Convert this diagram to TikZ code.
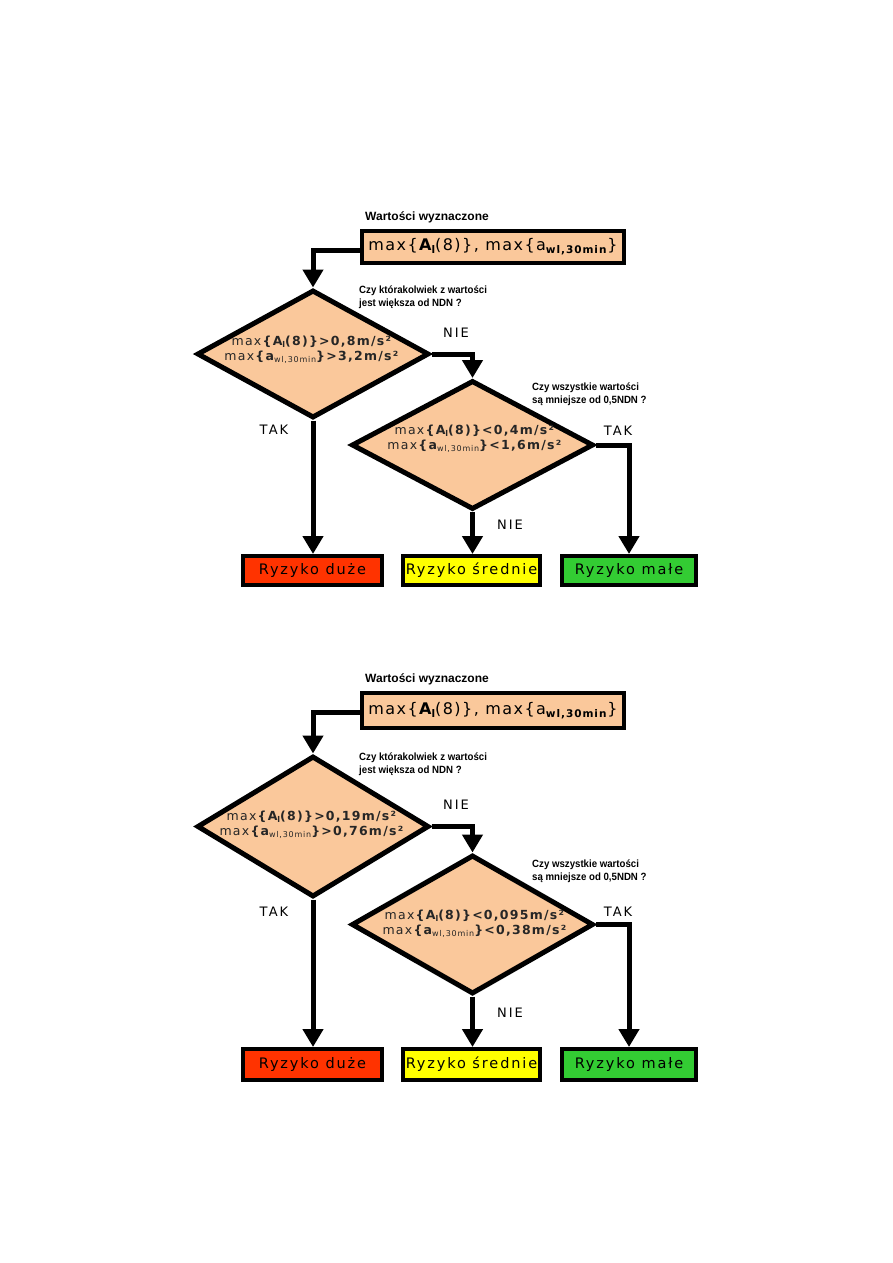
\documentclass[tikz,border=0pt]{standalone}
\usepackage{fontspec}
\usetikzlibrary{shapes.geometric,arrows.meta}
\setmainfont{DejaVu Sans}
\newfontfamily\vf[LetterSpace=9]{DejaVu Sans}
\newfontfamily\df[LetterSpace=10]{DejaVu Sans}
\newfontfamily\rf[LetterSpace=13]{DejaVu Sans}
\newfontfamily\qf[FakeStretch=0.92]{Liberation Sans}
\newfontfamily\wf{Liberation Sans}
\newfontfamily\lf[LetterSpace=16]{DejaVu Sans}
\definecolor{peach}{RGB}{250,200,155}
\definecolor{rred}{RGB}{255,51,0}
\definecolor{ryellow}{RGB}{255,255,0}
\definecolor{rgreen}{RGB}{51,204,51}
\newcommand{\sbs}[2]{\raisebox{-0.35ex}{\fontsize{#1}{#1}\selectfont #2}}
\newcommand{\topformula}{max\{\textbf{A\sbs{10.5}{l}}(8)\}, max\{a\sbs{10.5}{\textbf{wl,30min}}\}}
\tikzset{
  decision/.style={diamond, draw=black, fill=peach, line width=5pt, inner sep=0pt},
  topbox/.style={rectangle, draw=black, fill=peach, line width=4pt, inner sep=0pt,
    minimum width=262pt, font=\vf\fontsize{16}{19}\selectfont},
  riskbox/.style={rectangle, draw=black, line width=4pt, inner sep=0pt,
    minimum height=29pt, font=\rf\fontsize{14.5}{16}\selectfont},
  dtext/.style={align=center, inner sep=0pt, text=black!85, font=\df\fontsize{12.5}{15}\selectfont},
  qlab/.style={align=left, inner sep=0pt, font=\qf\bfseries\fontsize{10.5}{13}\selectfont},
  wlab/.style={inner sep=0pt, font=\wf\bfseries\fontsize{12}{14}\selectfont},
  yn/.style={inner sep=0pt, font=\lf\fontsize{13}{15}\selectfont},
  conn/.style={line width=5pt, -{Triangle[width=20pt,length=18pt]}},
}
\begin{document}
\begin{tikzpicture}[x=1pt,y=-1pt]
\useasboundingbox (0,0) rectangle (893,1263);
% ===== Diagram 1 =====
\node[wlab, anchor=west] (w1) at (365,217) {Wartości wyznaczone};
\node[topbox, minimum height=32pt] (b1) at (493,247) {\topformula};
\coordinate (c1) at (360,250);
\node[decision, minimum width=232pt, minimum height=128pt] (d1) at (313,354) {};
\node[dtext] (d1t) at (312,350) {max\textbf{\{A\sbs{8}{l}(8)\}>0,8m/s²}\\max\textbf{\{a\sbs{8}{\mdseries wl,30min}\}>3,2m/s²}};
\node[qlab, anchor=west] (q1) at (359,297.5) {Czy którakolwiek z wartości\\jest większa od NDN ?};
\node[decision, minimum width=242pt, minimum height=129pt] (d2) at (472.5,445) {};
\node[dtext] (d2t) at (475,438.5) {max\textbf{\{A\sbs{8}{l}(8)\}<0,4m/s²}\\max\textbf{\{a\sbs{8}{\mdseries wl,30min}\}<1,6m/s²}};
\node[qlab, anchor=west] (q2) at (532,394) {Czy wszystkie wartości\\są mniejsze od 0,5NDN ?};
\node[riskbox, fill=rred, minimum width=139pt] (r1) at (312.5,570.5) {Ryzyko duże};
\node[riskbox, fill=ryellow, minimum width=137pt] (y1) at (471.5,570.5) {Ryzyko średnie};
\node[riskbox, fill=rgreen, minimum width=134pt] (g1) at (629,570.5) {Ryzyko małe};
\node[yn] (n1) at (456,333) {NIE};
\node[yn] (t1) at (274,430) {TAK};
\node[yn] (t2) at (618,431) {TAK};
\node[yn] (n2) at (510,525) {NIE};
\draw[conn] (c1) -| (d1.north);
\draw[conn] (d1.east) -| (d2.north);
\draw[conn] (d1.south) -- (d1.south |- r1.north);
\draw[conn] (d2.south) -- (d2.south |- y1.north);
\draw[conn] (d2.east) -| (g1.north);
% ===== Diagram 2 =====
\node[wlab, anchor=west] (w2) at (365,679) {Wartości wyznaczone};
\node[topbox, minimum height=35pt] (b2) at (493,710.5) {\topformula};
\coordinate (c2) at (360,712);
\node[decision, minimum width=232pt, minimum height=141pt] (e1) at (313,826.5) {};
\node[dtext] (e1t) at (312,824.5) {max\textbf{\{A\sbs{8}{l}(8)\}>0,19m/s²}\\max\textbf{\{a\sbs{8}{\mdseries wl,30min}\}>0,76m/s²}};
\node[qlab, anchor=west] (q3) at (359,764) {Czy którakolwiek z wartości\\jest większa od NDN ?};
\node[decision, minimum width=242pt, minimum height=139pt] (e2) at (472.5,924.5) {};
\node[dtext] (e2t) at (475,923.5) {max\textbf{\{A\sbs{8}{l}(8)\}<0,095m/s²}\\max\textbf{\{a\sbs{8}{\mdseries wl,30min}\}<0,38m/s²}};
\node[qlab, anchor=west] (q4) at (532,871.5) {Czy wszystkie wartości\\są mniejsze od 0,5NDN ?};
\node[riskbox, fill=rred, minimum width=139pt, minimum height=31pt] (r2) at (312.5,1064.5) {Ryzyko duże};
\node[riskbox, fill=ryellow, minimum width=137pt, minimum height=31pt] (y2) at (471.5,1064.5) {Ryzyko średnie};
\node[riskbox, fill=rgreen, minimum width=134pt, minimum height=31pt] (g2) at (629,1064.5) {Ryzyko małe};
\node[yn] (n3) at (456,805) {NIE};
\node[yn] (t3) at (274,912) {TAK};
\node[yn] (t4) at (618,912) {TAK};
\node[yn] (n4) at (510,1013) {NIE};
\draw[conn] (c2) -| (e1.north);
\draw[conn] (e1.east) -| (e2.north);
\draw[conn] (e1.south) -- (e1.south |- r2.north);
\draw[conn] (e2.south) -- (e2.south |- y2.north);
\draw[conn] (e2.east) -| (g2.north);
\end{tikzpicture}
\end{document}
